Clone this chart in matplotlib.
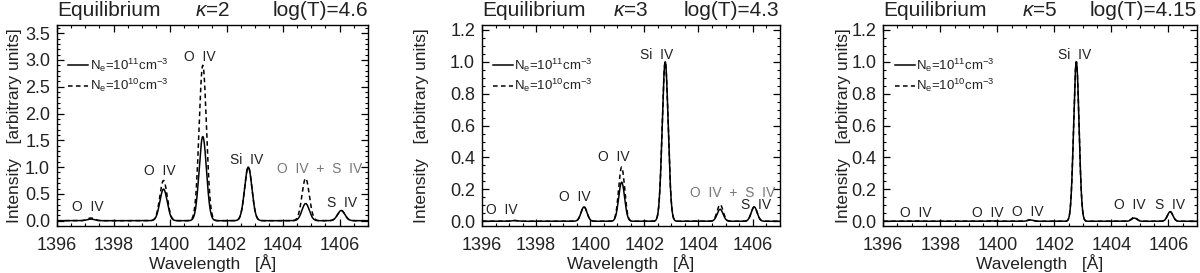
import numpy as np
import matplotlib
matplotlib.use("Agg")
import matplotlib.pyplot as plt
from matplotlib.ticker import MultipleLocator

plt.rcParams['font.family'] = ['Liberation Sans', 'DejaVu Sans']
plt.rcParams['mathtext.fontset'] = 'custom'
plt.rcParams['mathtext.rm'] = 'Liberation Sans'
plt.rcParams['mathtext.it'] = 'Liberation Sans:italic'

# Line centres [A] (same for every panel)
centres = [1397.20, 1399.77, 1401.16, 1402.77, 1404.80, 1406.06]

# Peak intensities: Ne=1e11 (solid) and Ne=1e10 (dashed)
kappas = [2, 3, 5]
logT = ["4.6", "4.3", "4.15"]
amp_hi = [[0.03, 0.59, 1.57, 1.00, 0.32, 0.19],
          [0.004, 0.09, 0.245, 1.00, 0.075, 0.09],
          [0.001, 0.002, 0.008, 1.00, 0.02, 0.06]]
amp_lo = [[0.05, 0.75, 2.90, 1.00, 0.79, 0.19],
          [0.005, 0.09, 0.34, 1.00, 0.105, 0.09],
          [0.001, 0.002, 0.01, 1.00, 0.025, 0.06]]
sigma = [0.13, 0.11, 0.095]  # line widths [A]

# Ion labels per panel: (text, x, y, grey)
labels = [
    [("O  IV", 1397.1, 0.25, False), ("O  IV", 1399.65, 0.92, False),
     ("O  IV", 1401.05, 3.05, False), ("Si  IV", 1402.72, 1.13, False),
     ("O  IV  +  S  IV", 1405.3, 0.97, True), ("S  IV", 1406.08, 0.33, False)],
    [("O  IV", 1396.73, 0.07, False), ("O  IV", 1399.43, 0.15, False),
     ("O  IV", 1400.88, 0.40, False), ("Si  IV", 1402.47, 1.045, False),
     ("O  IV  +  S  IV", 1405.27, 0.175, True), ("S  IV", 1406.14, 0.105, False)],
    [("O  IV", 1397.15, 0.05, False), ("O  IV", 1399.66, 0.05, False),
     ("O  IV", 1401.07, 0.055, False), ("Si  IV", 1402.72, 1.045, False),
     ("O  IV", 1404.66, 0.10, False), ("S  IV", 1406.04, 0.10, False)],
]

ylims = [(-0.1, 3.65), (-0.03, 1.23), (-0.03, 1.23)]
ymaj = [0.5, 0.2, 0.2]
ymin = [0.1, 0.05, 0.05]
# axes boxes [left, bottom, width, height] in figure fraction
boxes = [[0.0475, 0.172, 0.259, 0.736],
         [0.4017, 0.172, 0.248, 0.736],
         [0.736, 0.172, 0.2615, 0.736]]
ylab_x = [0.006, 0.345, 0.697]

txt = '#222222'
wl = np.linspace(1396.0, 1407.0, 3000)


def spectrum(amps, sig):
    s = np.zeros_like(wl)
    for c, a in zip(centres, amps):
        s += a * np.exp(-0.5 * ((wl - c) / sig)**2)
    return s


fig = plt.figure(figsize=(12.0, 2.73), dpi=100)

for i in range(3):
    ax = fig.add_axes(boxes[i])
    ax.plot(wl, spectrum(amp_hi[i], sigma[i]), color='black', lw=1.1,
            label=r'N$_\mathregular{e}$=10$^\mathregular{11}$cm$^\mathregular{-3}$')
    ax.plot(wl, spectrum(amp_lo[i], sigma[i]), color='black', lw=1.1, ls=(0, (3.0, 2.2)),
            label=r'N$_\mathregular{e}$=10$^\mathregular{10}$cm$^\mathregular{-3}$')

    ax.set_xlim(1396.0, 1407.0)
    ax.set_ylim(*ylims[i])
    ax.xaxis.set_major_locator(MultipleLocator(2))
    ax.xaxis.set_minor_locator(MultipleLocator(0.5))
    ax.yaxis.set_major_locator(MultipleLocator(ymaj[i]))
    ax.yaxis.set_minor_locator(MultipleLocator(ymin[i]))
    ax.yaxis.set_major_formatter(lambda v, p: f"{v:.1f}")
    ax.tick_params(which='both', direction='in', top=True, right=True, colors='black',
                   labelcolor=txt, labelsize=13)
    ax.tick_params(which='major', length=5, width=0.9, pad=5)
    ax.tick_params(which='minor', length=2.5, width=0.8)
    ax.tick_params(axis='x', which='major', pad=8)
    for sp in ax.spines.values():
        sp.set_linewidth(1.0)

    for t, x, y, grey in labels[i]:
        ax.text(x, y, t, ha='center', va='center', fontsize=10,
                color='#777777' if grey else txt)

    leg = ax.legend(loc='upper left', bbox_to_anchor=(0.02, 0.87), frameon=False,
                    handlelength=1.5, handletextpad=0.1, labelspacing=0.25,
                    borderaxespad=0, fontsize=9.5)
    for t in leg.get_texts():
        t.set_color(txt)

    ax.set_xlabel('Wavelength   [Å]', fontsize=12.5, color=txt, labelpad=0)
    fig.text(ylab_x[i], boxes[i][1] + boxes[i][3] / 2, 'Intensity   [arbitrary units]',
             rotation=90, ha='left', va='center', fontsize=12.5, color=txt)

    # title: three pieces spread over the panel width
    ax.text(0.0, 1.025, 'Equilibrium', transform=ax.transAxes, ha='left', va='bottom',
            fontsize=15, color=txt)
    ax.text(0.5, 1.025, r'$\kappa$=%d' % kappas[i], transform=ax.transAxes, ha='center',
            va='bottom', fontsize=15, color=txt)
    ax.text(1.0, 1.025, 'log(T)=%s' % logT[i], transform=ax.transAxes, ha='right',
            va='bottom', fontsize=15, color=txt)

fig.savefig('out.png', dpi=100)
